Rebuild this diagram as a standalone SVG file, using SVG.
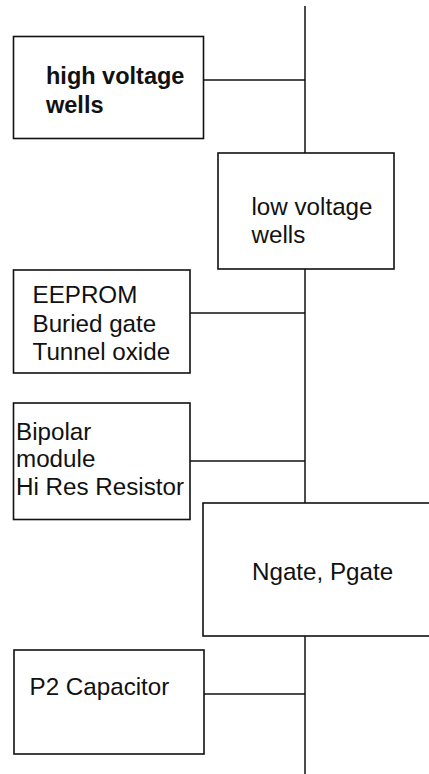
<svg xmlns="http://www.w3.org/2000/svg" width="429" height="774" viewBox="0 0 429 774">
<style>
.box{fill:#fff;stroke:#111;stroke-width:1.6}
.t{font-family:"Liberation Sans",Arial,sans-serif;font-size:24.2px;fill:#111}
.b{font-weight:bold;font-size:23.5px}
.c{stroke:#111;stroke-width:1.5;fill:none}
</style>
<rect width="429" height="774" fill="#fff"/>
<g id="connectors">
<line class="c" x1="305" y1="6" x2="305" y2="153"/>
<line class="c" x1="305" y1="269" x2="305" y2="503"/>
<line class="c" x1="305" y1="636" x2="305" y2="774"/>
<line class="c" x1="203" y1="80" x2="305" y2="80"/>
<line class="c" x1="190" y1="313" x2="305" y2="313"/>
<line class="c" x1="190" y1="461" x2="305" y2="461"/>
<line class="c" x1="204" y1="694" x2="305" y2="694"/>
</g>
<g id="high-voltage-wells">
<rect class="box" x="13.5" y="36.5" width="190" height="102"/>
<text class="t b" x="46" y="84">high voltage</text>
<text class="t b" x="46" y="113">wells</text>
</g>
<g id="low-voltage-wells">
<rect class="box" x="218" y="153" width="176" height="116"/>
<text class="t" x="251.5" y="215">low voltage</text>
<text class="t" x="251.5" y="242.5">wells</text>
</g>
<g id="eeprom">
<rect class="box" x="13.5" y="270" width="176.5" height="103"/>
<text class="t" x="32.5" y="303">EEPROM</text>
<text class="t" x="32.5" y="331.5">Buried gate</text>
<text class="t" x="32.5" y="359.5">Tunnel oxide</text>
</g>
<g id="bipolar">
<rect class="box" x="13.5" y="403" width="176.5" height="116.5"/>
<text class="t" x="16" y="439.5">Bipolar</text>
<text class="t" x="16" y="467">module</text>
<text class="t" x="16" y="494.5">Hi Res Resistor</text>
</g>
<g id="ngate-pgate">
<rect class="box" x="203" y="503" width="240" height="133"/>
<text class="t" x="252" y="580">Ngate, Pgate</text>
</g>
<g id="p2-capacitor">
<rect class="box" x="14" y="650" width="190" height="104"/>
<text class="t" x="29.5" y="695">P2 Capacitor</text>
</g>
</svg>
